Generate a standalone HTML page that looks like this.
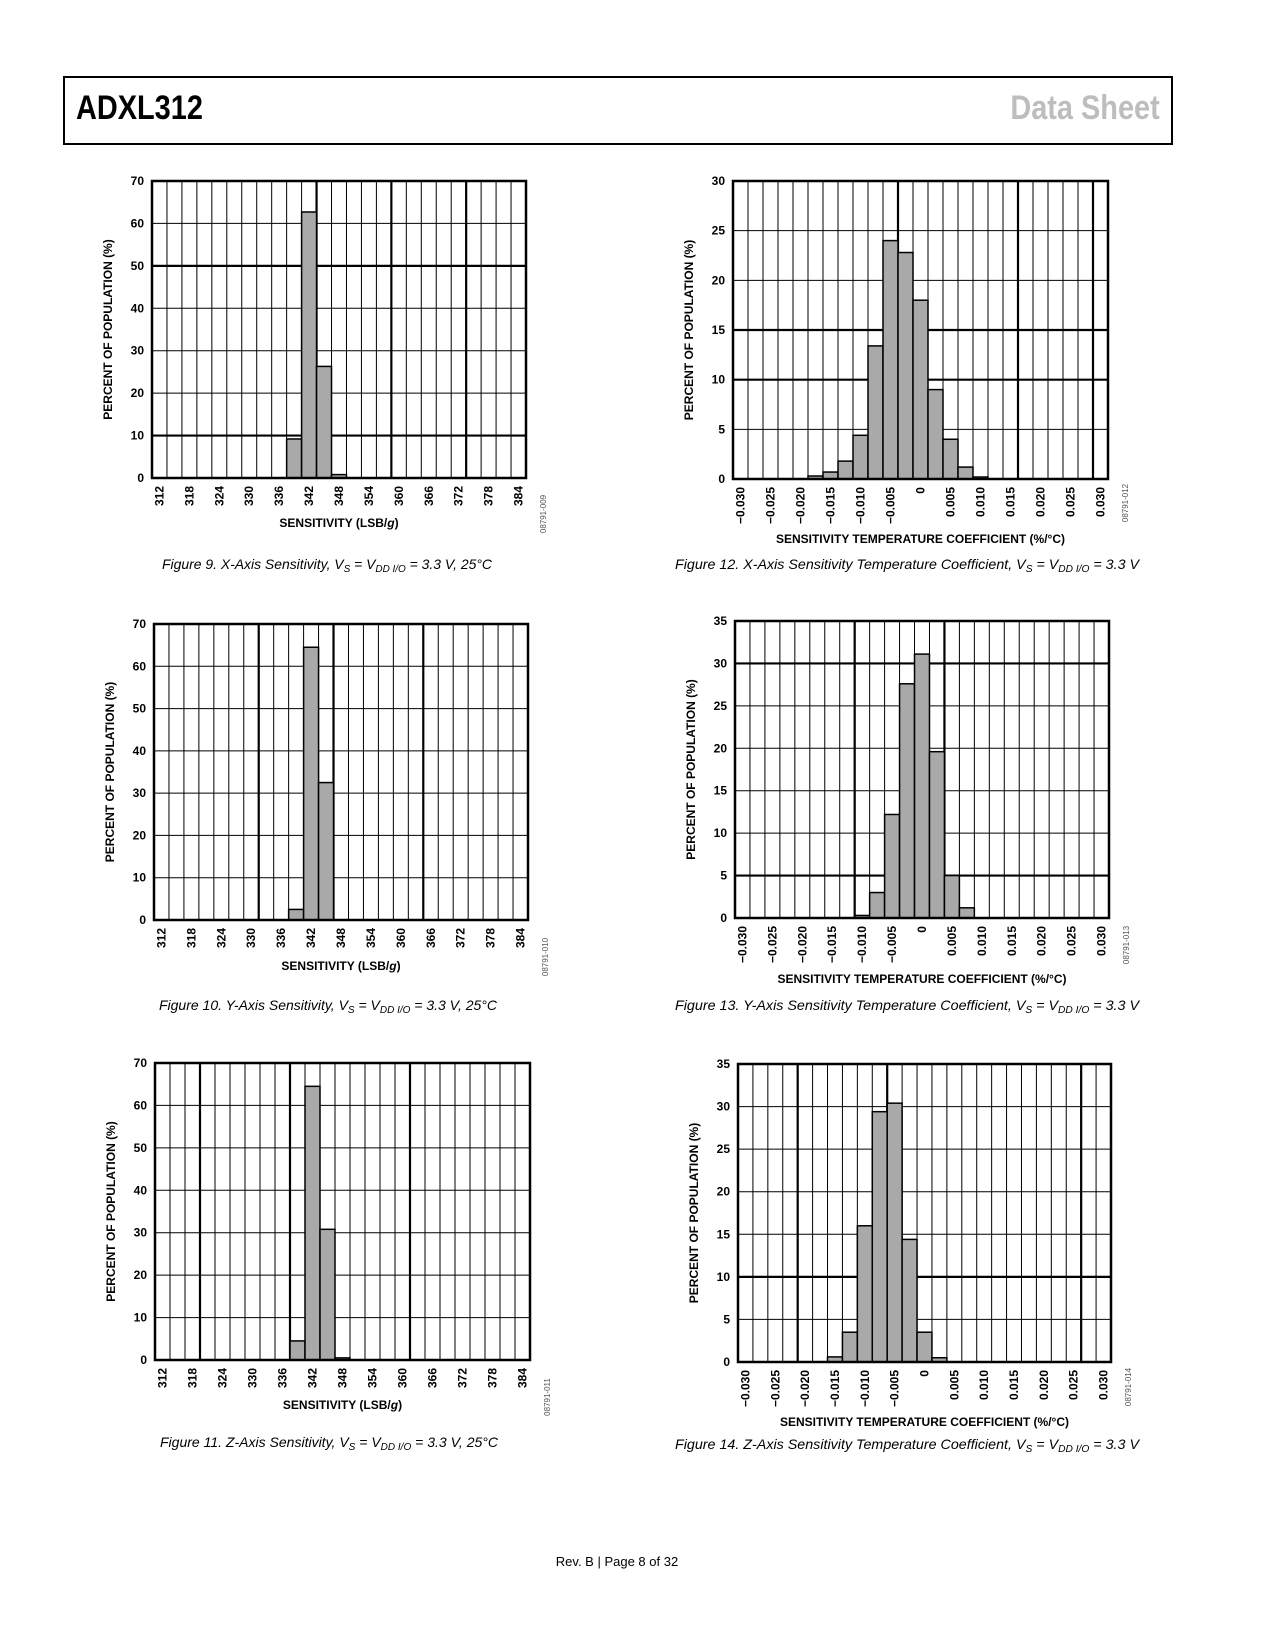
<!DOCTYPE html>
<html><head><meta charset="utf-8">
<style>
html,body{margin:0;padding:0;background:#fff;}
body{width:1275px;height:1650px;position:relative;overflow:hidden;font-family:"Liberation Sans",sans-serif;}
#hdr{position:absolute;left:63px;top:76px;width:1106px;height:65px;border:2px solid #000;}
#hdr .t1{position:absolute;left:11px;top:11px;font-family:"Liberation Sans Narrow","Liberation Sans",sans-serif;font-weight:bold;font-size:34px;transform:scaleX(0.85);transform-origin:left;}
#hdr .t2{position:absolute;right:11px;top:11px;font-family:"Liberation Sans Narrow","Liberation Sans",sans-serif;font-weight:bold;font-size:34px;color:#bdbdbd;transform:scaleX(0.85);transform-origin:right;}
svg{position:absolute;left:0;top:0;}
</style></head><body>
<div id="hdr">
<span class="t1">ADXL312</span>
<span class="t2">Data Sheet</span>
</div>
<svg id="page" width="1275" height="1650" xmlns="http://www.w3.org/2000/svg">
<text x="617" y="1566" text-anchor="middle" font-size="13" font-family="Liberation Sans, sans-serif">Rev. B | Page 8 of 32</text>
</svg>
<script>
const sensLabels=['312','318','324','330','336','342','348','354','360','366','372','378','384'];
const tcLabels=['\u22120.030','\u22120.025','\u22120.020','\u22120.015','\u22120.010','\u22120.005','0','0.005','0.010','0.015','0.020','0.025','0.030'];
const tcLabelValues=[-0.030,-0.025,-0.020,-0.015,-0.010,-0.005,0,0.005,0.010,0.015,0.020,0.025,0.030];
const sensLabelValues=[312,318,324,330,336,342,348,354,360,366,372,378,384];
const yTicks70=[0,10,20,30,40,50,60,70];
const yTicks30=[0,5,10,15,20,25,30];
const yTicks35=[0,5,10,15,20,25,30,35];

const fig9Bins=[339,342,345,348];
const fig9Pct=[9.2,62.7,26.3,0.8];
const fig10Bins=[339,342,345];
const fig10Pct=[2.5,64.5,32.5];
const fig11Bins=[339,342,345,348];
const fig11Pct=[4.5,64.5,30.8,0.5];
const fig12Bins=[-0.0175,-0.015,-0.0125,-0.010,-0.0075,-0.005,-0.0025,0,0.0025,0.005,0.0075,0.010];
const fig12Pct=[0.3,0.7,1.8,4.4,13.4,24,22.8,18,9,4,1.2,0.2];
const fig13Bins=[-0.010,-0.0075,-0.005,-0.0025,0,0.0025,0.005,0.0075];
const fig13Pct=[0.3,3,12.2,27.6,31.1,19.6,5,1.2];
const fig14Bins=[-0.015,-0.0125,-0.010,-0.0075,-0.005,-0.0025,0,0.0025];
const fig14Pct=[0.6,3.5,16,29.4,30.4,14.4,3.5,0.5];

const NS='http://www.w3.org/2000/svg';
const page=document.getElementById('page');
function mk(tag,attrs,parent){const e=document.createElementNS(NS,tag);for(const k in attrs)e.setAttribute(k,attrs[k]);(parent||page).appendChild(e);return e;}

function chart(o){
  const g=mk('g',{});
  
  
  const L=o.l,T=o.t,R=o.r,B=o.b,n=25,cw=(R-L)/n;
  const ymax=o.yTicks[o.yTicks.length-1];
  const ys=v=>B-(v/ymax)*(B-T);
  const colOf=v=>(v-o.x0)/o.step;
  const xs=c=>L+c*cw;
  for(let i=1;i<n;i++){
    const ln=mk('line',{x1:xs(i),x2:xs(i),y1:T,y2:B,stroke:'#000','stroke-width':o.thickV.includes(i)?2.2:1},g);
    
    
  }
  o.yTicks.forEach(v=>{
    if(v>0&&v<ymax){
      const ln=mk('line',{x1:L,x2:R,y1:ys(v),y2:ys(v),stroke:'#000','stroke-width':o.thickH.includes(v)?2.2:1},g);
      
      
    }
    const t=mk('text',{x:L-8,y:ys(v)+4,'text-anchor':'end','font-size':12,'font-weight':'bold','font-family':'Liberation Sans, sans-serif'},g);
    t.textContent=v;
    
    
  });
  o.bins.forEach((b,i)=>{
    const c=colOf(b);
    const r=mk('rect',{x:xs(c),y:ys(o.pct[i]),width:cw,height:B-ys(o.pct[i]),fill:'#a9a9a9',stroke:'#000','stroke-width':1.5},g);
    
    
  });
  mk('rect',{x:L,y:T,width:R-L,height:B-T,fill:'none',stroke:'#000','stroke-width':2.5},g);
  o.xLabelValues.forEach((v,i)=>{
    const x=xs(colOf(v)+0.5);
    const t=mk('text',{x:0,y:0,'text-anchor':'end','font-size':12,'font-weight':'bold','font-family':'Liberation Sans, sans-serif',transform:`translate(${x+4},${B+8}) rotate(-90)`},g);
    t.textContent=o.xLabels[i];
    
    
  });
  const yt=mk('text',{x:0,y:0,'text-anchor':'middle','font-size':12,'font-weight':'bold','font-family':'Liberation Sans, sans-serif',transform:`translate(${L-40},${(T+B)/2}) rotate(-90)`},g);
  yt.textContent='PERCENT OF POPULATION (%)';
  
  
  const xt=mk('text',{x:(L+R)/2,y:o.xTitleY,'text-anchor':'middle','font-size':12,'font-weight':'bold','font-family':'Liberation Sans, sans-serif'},g);
  xt.innerHTML=o.xTitle;
  
  
  const id=mk('text',{x:0,y:0,'text-anchor':'middle','font-size':8,fill:'#555','font-family':'Liberation Sans, sans-serif',transform:`translate(${R+20},${o.idY}) rotate(-90)`},g);
  id.textContent=o.id;
  
  
  const cap=mk('text',{x:o.capX,y:o.capY,'text-anchor':'middle','font-size':14,'font-style':'italic','font-family':'Liberation Sans, sans-serif',textLength:o.capW,lengthAdjust:'spacingAndGlyphs'},g);
  cap.innerHTML=o.cap;
  
  
}
const sub=(s)=>`<tspan font-size="10" dy="3">${s}</tspan><tspan dy="-3"> </tspan>`;
const sensT='SENSITIVITY (LSB/<tspan font-style="italic">g</tspan>)';
const tcT='SENSITIVITY TEMPERATURE COEFFICIENT (%/°C)';
const capS=(n,ax)=>`Figure ${n}. ${ax}-Axis Sensitivity, V${sub('S')}= V${sub('DD I/O')}= 3.3 V, 25°C`;
const capT=(n,ax)=>`Figure ${n}. ${ax}-Axis Sensitivity Temperature Coefficient, V${sub('S')}= V${sub('DD I/O')}= 3.3 V`;

chart({name:'figure-9-chart',l:152,t:181,r:526,b:478,yTicks:yTicks70,x0:312,step:3,bins:fig9Bins,pct:fig9Pct,xLabels:sensLabels,xLabelValues:sensLabelValues,thickV:[11,16,21],thickH:[10,50],xTitle:sensT,xTitleY:527,id:'08791-009',idY:514,cap:capS(9,'X'),capX:327,capY:569,capW:330});
chart({name:'figure-10-chart',l:154,t:624,r:528,b:920,yTicks:yTicks70,x0:312,step:3,bins:fig10Bins,pct:fig10Pct,xLabels:sensLabels,xLabelValues:sensLabelValues,thickV:[7,12,18],thickH:[],xTitle:sensT,xTitleY:970,id:'08791-010',idY:957,cap:capS(10,'Y'),capX:328,capY:1010,capW:338});
chart({name:'figure-11-chart',l:155,t:1063,r:530,b:1360,yTicks:yTicks70,x0:312,step:3,bins:fig11Bins,pct:fig11Pct,xLabels:sensLabels,xLabelValues:sensLabelValues,thickV:[3,9,17],thickH:[],xTitle:sensT,xTitleY:1409,id:'08791-011',idY:1397,cap:capS(11,'Z'),capX:329,capY:1447,capW:338});
chart({name:'figure-12-chart',l:733,t:181,r:1108,b:479,yTicks:yTicks30,x0:-0.030,step:0.0025,bins:fig12Bins,pct:fig12Pct,xLabels:tcLabels,xLabelValues:tcLabelValues,thickV:[11,19,24],thickH:[10,15],xTitle:tcT,xTitleY:543,id:'08791-012',idY:503,cap:capT(12,'X'),capX:907,capY:569,capW:464});
chart({name:'figure-13-chart',l:735,t:621,r:1109,b:918,yTicks:yTicks35,x0:-0.030,step:0.0025,bins:fig13Bins,pct:fig13Pct,xLabels:tcLabels,xLabelValues:tcLabelValues,thickV:[8,14],thickH:[5,30],xTitle:tcT,xTitleY:983,id:'08791-013',idY:945,cap:capT(13,'Y'),capX:907,capY:1010,capW:464});
chart({name:'figure-14-chart',l:738,t:1064,r:1111,b:1362,yTicks:yTicks35,x0:-0.030,step:0.0025,bins:fig14Bins,pct:fig14Pct,xLabels:tcLabels,xLabelValues:tcLabelValues,thickV:[4,10,23],thickH:[10],xTitle:tcT,xTitleY:1426,id:'08791-014',idY:1387,cap:capT(14,'Z'),capX:907,capY:1449,capW:464});
</script>
</body></html>
